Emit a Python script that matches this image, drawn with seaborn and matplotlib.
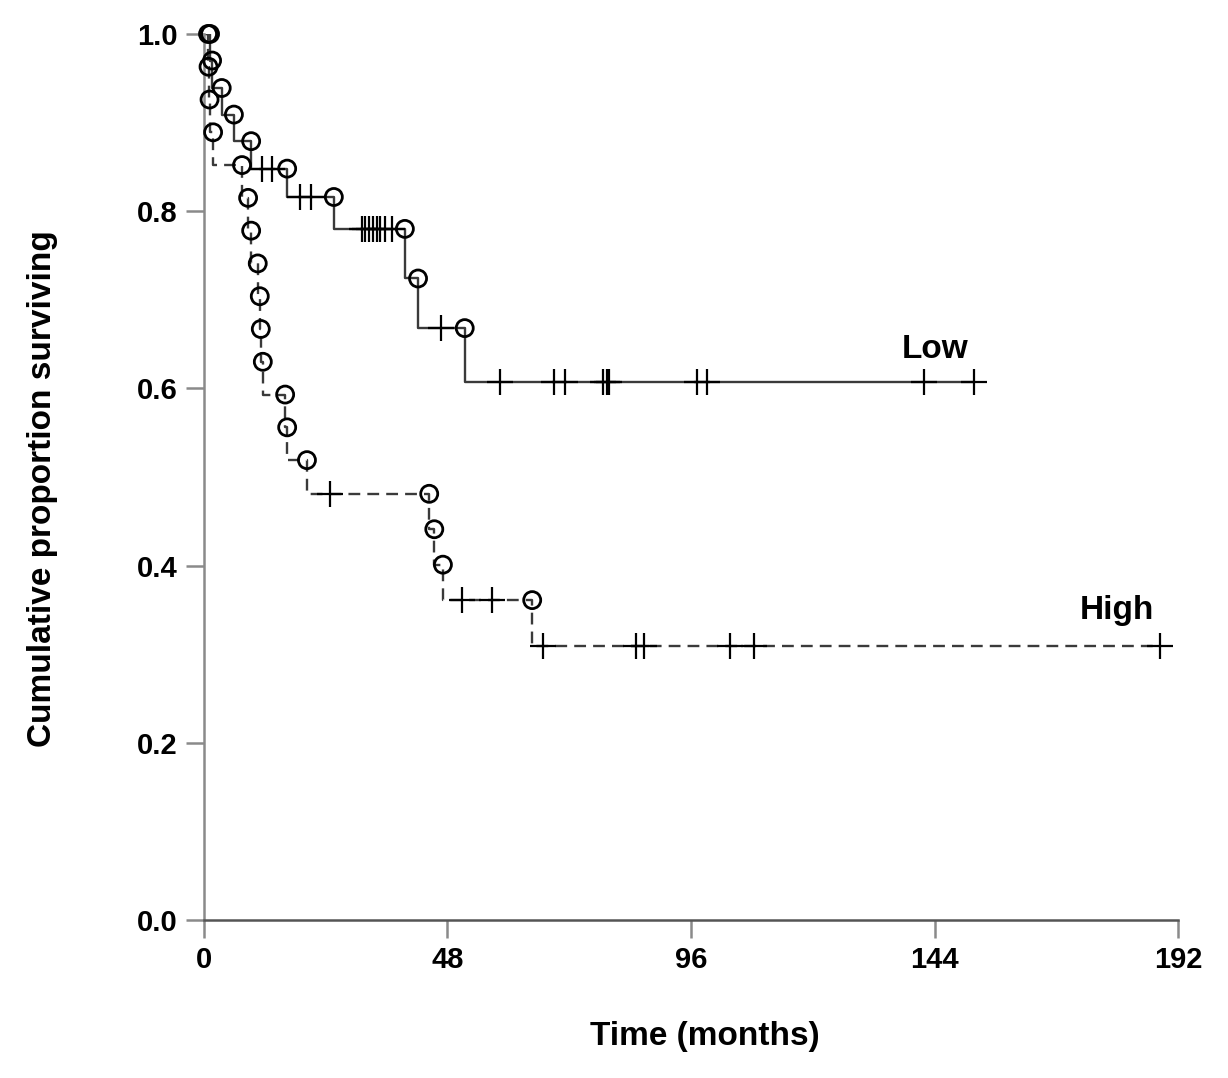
import numpy as np
import pandas as pd
import seaborn as sns
import matplotlib
matplotlib.use("Agg")
import matplotlib.pyplot as plt

# Low group: event times (months) and survival right after each event
low_event_t = [1.2, 1.6, 3.5, 5.9, 9.3, 16.4, 25.6, 39.6, 42.2, 51.4]
low_surv = [0.970, 0.939, 0.909, 0.879, 0.848, 0.816, 0.780, 0.724, 0.668, 0.607]
low_cens_t = [11.4, 13.4, 18.9, 21.1, 31.1, 31.7, 32.5, 33.3, 34.1, 34.7, 35.7, 37.1,
              46.7, 58.3, 69.0, 71.2, 78.6, 79.4, 79.8, 97.2, 99.2, 141.9, 151.8]

# High group
high_event_t = [0.8, 0.9, 1.1, 1.8, 7.5, 8.7, 9.3, 10.6, 11.0, 11.2, 11.6, 16.0, 16.4,
                20.3, 44.4, 45.4, 47.1, 64.7]
high_surv = [0.963, 0.926, 0.889, 0.852, 0.815, 0.778, 0.741, 0.704, 0.667, 0.630,
             0.593, 0.556, 0.519, 0.481, 0.441, 0.401, 0.361, 0.309]
high_cens_t = [24.8, 50.9, 56.8, 66.8, 85.2, 86.8, 103.6, 108.4, 188.4]

x_ticks = [0, 48, 96, 144, 192]
y_ticks = [0.0, 0.2, 0.4, 0.6, 0.8, 1.0]

sns.set_style("ticks")
plt.rcParams["font.family"] = ["Liberation Sans", "DejaVu Sans"]


def step_frames(ev_t, surv, cens_t):
    t = [0.0] + list(ev_t) + [max(cens_t)]
    s = [1.0] + list(surv) + [surv[-1]]
    line = pd.DataFrame({"t": t, "s": s})
    before = [1.0] + list(surv[:-1])
    circ = pd.DataFrame({"t": ev_t, "s": before})
    idx = np.searchsorted(ev_t, cens_t, side="right")
    s_arr = np.array([1.0] + list(surv))
    cens = pd.DataFrame({"t": cens_t, "s": s_arr[idx]})
    return line, circ, cens


fig = plt.figure(figsize=(12.28, 10.78), dpi=100)
ax = fig.add_axes([0.1661, 0.1466, 0.7932, 0.8219])

groups = [
    ("Low", low_event_t, low_surv, low_cens_t, "-"),
    ("High", high_event_t, high_surv, high_cens_t, (0, (5, 3))),
]
for name, ev, sv, ce, ls in groups:
    line, circ, cens = step_frames(ev, sv, ce)
    sns.lineplot(data=line, x="t", y="s", ax=ax, estimator=None, sort=False,
                 drawstyle="steps-post", color="#3a3a3a", lw=1.7, linestyle=ls)
    sns.scatterplot(data=circ, x="t", y="s", ax=ax, marker="o", s=150,
                    facecolor="none", edgecolor="black", linewidth=2.0,
                    clip_on=False, zorder=4)
    sns.scatterplot(data=cens, x="t", y="s", ax=ax, marker="+", s=340,
                    color="black", linewidth=1.6, clip_on=False, zorder=4)

ax.text(144.1, 0.644, "Low", fontsize=24, fontweight="bold", color="black",
        ha="center", va="center")
ax.text(180.0, 0.349, "High", fontsize=24, fontweight="bold", color="black",
        ha="center", va="center")

ax.set_xlim(0, 192)
ax.set_ylim(0, 1.0)
ax.set_xticks(x_ticks)
ax.set_xticklabels([str(v) for v in x_ticks], fontweight="bold")
ax.set_yticks(y_ticks)
ax.set_yticklabels([f"{v:.1f}" for v in y_ticks], fontweight="bold")
ax.tick_params(axis="both", length=13, width=1.8, color="#8a8a8a",
               labelsize=21, labelcolor="black", pad=6)

for side in ["top", "right"]:
    ax.spines[side].set_visible(False)
ax.spines["left"].set_color("#8a8a8a")
ax.spines["left"].set_linewidth(1.8)
ax.spines["bottom"].set_color("#555555")
ax.spines["bottom"].set_linewidth(1.8)

ax.set_xlabel("Time (months)", fontsize=24, fontweight="bold", color="black")
ax.set_ylabel("Cumulative proportion surviving", fontsize=24, fontweight="bold",
              color="black")
ax.xaxis.set_label_coords(0.514, -0.114)
ax.yaxis.set_label_coords(-0.150, 0.4865)

fig.savefig("out.png", dpi=100)
